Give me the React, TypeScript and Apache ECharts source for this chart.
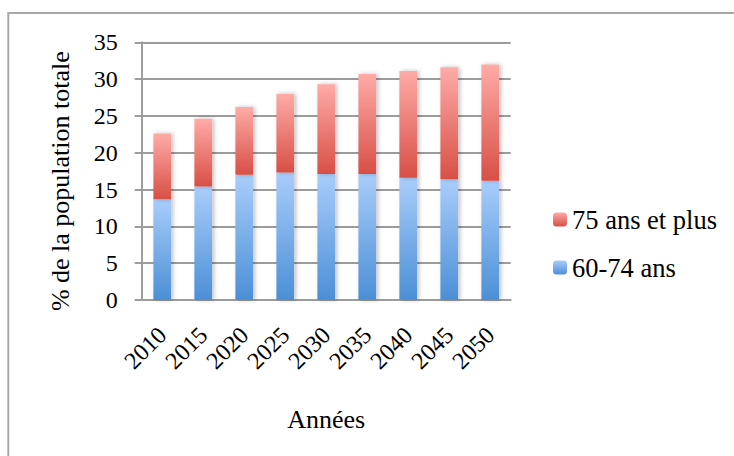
import React, { useEffect, useRef } from "react";
import * as echarts from "echarts";

const years = ["2010", "2015", "2020", "2025", "2030", "2035", "2040", "2045", "2050"];
const age6074 = [13.7, 15.4, 17.0, 17.3, 17.1, 17.1, 16.6, 16.4, 16.2];
const age75plus = [8.9, 9.2, 9.2, 10.7, 12.2, 13.6, 14.5, 15.2, 15.8];
const yTicks = { min: 0, max: 35, interval: 5 };
const seriesNames = ["60-74 ans", "75 ans et plus"];
const legendOrder = ["75 ans et plus", "60-74 ans"];

const FONT = "Liberation Serif";
const GRAY = "#9c9c9c";

export default function App() {
  const ref = useRef<HTMLDivElement>(null);
  useEffect(() => {
    if (!ref.current) return;
    const chart = echarts.init(ref.current, null, { renderer: "svg" });
    const blue = new echarts.graphic.LinearGradient(0, 0, 0, 1, [
      { offset: 0, color: "#a9cdfb" },
      { offset: 1, color: "#4b8fd6" },
    ]);
    const red = new echarts.graphic.LinearGradient(0, 0, 0, 1, [
      { offset: 0, color: "#ffaba7" },
      { offset: 1, color: "#d84f46" },
    ]);
    chart.setOption({
      animation: false,
      backgroundColor: "#ffffff",
      textStyle: { fontFamily: FONT, color: "#000" },
      graphic: [
        {
          type: "rect",
          shape: { x: 8.3, y: 13, width: 900, height: 600 },
          style: { fill: "none", stroke: "#a8a8a8", lineWidth: 2 },
          silent: true,
          z: -1,
        },
      ],
      grid: { left: 141.7, right: 223.3, top: 42.3, bottom: 156 },
      legend: {
        orient: "vertical",
        left: 553,
        top: 206,
        padding: 0,
        itemWidth: 14,
        itemHeight: 14,
        itemGap: 21,
        data: legendOrder,
        textStyle: { fontFamily: FONT, fontSize: 26.5, color: "#000" },
      },
      xAxis: {
        type: "category",
        data: years,
        name: "Années",
        nameLocation: "middle",
        nameGap: 106,
        nameTextStyle: { fontFamily: FONT, fontSize: 26, color: "#000" },
        axisLine: { lineStyle: { color: GRAY, width: 2 } },
        axisTick: { length: 7, lineStyle: { color: GRAY, width: 2 } },
        axisLabel: { interval: 0, rotate: 45, margin: 31, fontFamily: FONT, fontSize: 24, color: "#000" },
      },
      yAxis: {
        type: "value",
        min: yTicks.min,
        max: yTicks.max,
        interval: yTicks.interval,
        name: "% de la population totale",
        nameLocation: "middle",
        nameGap: 68,
        nameTextStyle: { fontFamily: FONT, fontSize: 26, color: "#000", padding: [0, 20, 0, 0] },
        axisLine: { show: true, lineStyle: { color: GRAY, width: 2 } },
        axisTick: { show: true, length: 7, lineStyle: { color: GRAY, width: 2 } },
        axisLabel: { margin: 24, fontFamily: FONT, fontSize: 24, color: "#000" },
        splitLine: { lineStyle: { color: GRAY, width: 2 } },
      },
      series: [
        {
          name: seriesNames[0],
          type: "bar",
          stack: "total",
          barWidth: "43%",
          data: age6074,
          itemStyle: {
            color: blue,
            shadowColor: "rgba(0,0,0,0.25)",
            shadowBlur: 4,
            shadowOffsetX: 2,
          },
        },
        {
          name: seriesNames[1],
          type: "bar",
          stack: "total",
          barWidth: "43%",
          data: age75plus,
          itemStyle: {
            color: red,
            shadowColor: "rgba(0,0,0,0.25)",
            shadowBlur: 4,
            shadowOffsetX: 2,
          },
        },
      ],
    });
    return () => chart.dispose();
  }, []);
  return (
    <div
      ref={ref}
      style={{ position: "fixed", left: 0, top: 0, width: 734, height: 456, background: "#fff" }}
    />
  );
}
